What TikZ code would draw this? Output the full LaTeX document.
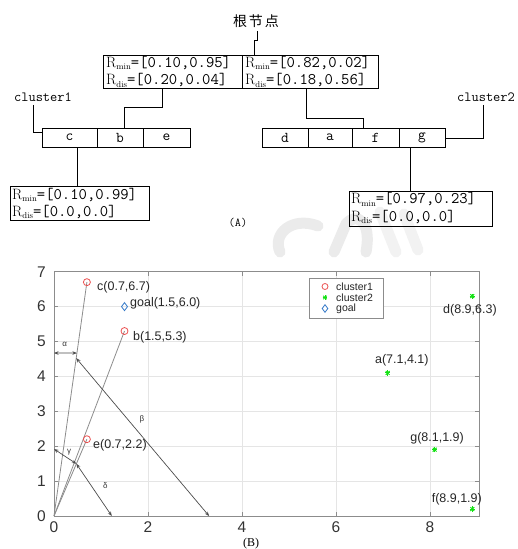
\documentclass[tikz,border=0pt]{standalone}
\usepackage{fontspec}
\newfontfamily\cjk{Noto Sans CJK SC}
\newfontfamily\plotfont{Liberation Sans}
\newfontfamily\capfont{Liberation Serif}
\usetikzlibrary{arrows.meta,calc}

\definecolor{markgreen}{RGB}{20,225,20}
\definecolor{markred}{RGB}{235,80,80}
\definecolor{markblue}{RGB}{50,120,200}

% range label: R with subscript, then a monospaced interval
\newcommand\rng[2]{{\fontsize{15}{15}\selectfont R}{\fontsize{8.5}{8.5}\selectfont\raisebox{-2.2pt}{#1}}{\ttfamily\fontsize{16.2}{16.2}\selectfont=[#2]}}

\tikzset{
  line/.style={draw=black, line width=0.8pt},
  cellbox/.style={line, inner sep=0pt, minimum height=19pt, font=\ttfamily\fontsize{15}{15}\selectfont},
  tag/.style={font=\ttfamily\fontsize{14}{14}\selectfont},
  gridline/.style={draw=black!10, line width=0.6pt},
  axisline/.style={draw=black!45, line width=0.8pt},
  ray/.style={draw=black!45, line width=0.8pt},
  dim/.style={draw=black!70, line width=0.7pt, {Stealth[length=4.5pt,width=3.5pt]}-{Stealth[length=4.5pt,width=3.5pt]}},
  ticklab/.style={font=\plotfont\fontsize{15.5}{15.5}\selectfont, text=black!80, inner sep=0pt},
  ptlab/.style={font=\plotfont\fontsize{12.5}{12.5}\selectfont, text=black!85, inner sep=0pt},
  greek/.style={font=\plotfont\fontsize{8}{8}\selectfont, text=black!80, inner sep=0pt},
  c1mark/.style={draw=markred, line width=0.8pt, fill=none},
  c2mark/.style={draw=markgreen, line width=1pt},
  goalmark/.style={draw=markblue, line width=0.8pt},
  wmark/.style={draw=black, opacity=0.08, line width=11pt, line cap=round},
}

\begin{document}
\begin{tikzpicture}[x=1pt, y=-1pt]
\useasboundingbox (0,0) rectangle (517,549);

% faint background logo behind the caption area
\draw[wmark] (318,226) .. controls (292,216) and (272,234) .. (280,252);
\draw[wmark] (334,252) -- (346,224) .. controls (356,212) and (372,220) .. (366,252);
\draw[wmark, opacity=0.05] (380,212) -- (396,252);
\draw[wmark, opacity=0.05] (404,214) -- (418,250);

% ---------------- (A) the tree ----------------
\node[font=\cjk\fontsize{14}{14}\selectfont] (rootname) at (256,21) {根\hspace{2pt}节\hspace{2pt}点};

\node[line, minimum width=139pt, minimum height=33pt, inner sep=0pt] (rootL) at (172.5,71.5) {};
\node[line, minimum width=136pt, minimum height=33pt, inner sep=0pt] (rootR) at (310,71.5) {};
\node[anchor=west, inner sep=0pt] (rootLa) at (106,63) {\rng{min}{0.10,0.95}};
\node[anchor=west, inner sep=0pt] (rootLb) at (106,80.5) {\rng{dis}{0.20,0.04}};
\node[anchor=west, inner sep=0pt] (rootRa) at (245,63) {\rng{min}{0.82,0.02}};
\node[anchor=west, inner sep=0pt] (rootRb) at (245,80.5) {\rng{dis}{0.18,0.56}};

% leaf rows
\node[cellbox, minimum width=55pt] (c) at (69.5,137.5) {c};
\node[cellbox, minimum width=46pt] (b) at (120,137.5) {b};
\node[cellbox, minimum width=47pt] (e) at (166.5,137.5) {e};

\node[cellbox, minimum width=46pt] (d) at (285,137.5) {d};
\node[cellbox, minimum width=44pt] (a) at (330,137.5) {a};
\node[cellbox, minimum width=47pt] (f) at (375.5,137.5) {f};
\node[cellbox, minimum width=46pt] (g) at (422,137.5) {g};

\node[tag] (cl1) at (43,97) {cluster1};
\node[tag] (cl2) at (486,97) {cluster2};

% detail boxes of leaves c and g
\node[line, minimum width=139pt, minimum height=34pt, inner sep=0pt] (cinfo) at (79.5,203) {};
\node[anchor=west, inner sep=0pt] (cinfoa) at (12,195) {\rng{min}{0.10,0.99}};
\node[anchor=west, inner sep=0pt] (cinfob) at (12,212) {\rng{dis}{0.0,0.0}};
\node[line, minimum width=143pt, minimum height=35pt, inner sep=0pt] (ginfo) at (420.5,208.5) {};
\node[anchor=west, inner sep=0pt] (ginfoa) at (351,199.5) {\rng{min}{0.97,0.23}};
\node[anchor=west, inner sep=0pt] (ginfob) at (351,217) {\rng{dis}{0.0,0.0}};

\node[font=\ttfamily\fontsize{12}{12}\selectfont] (capA) at (238,223) {(A)};

% connectors
\draw[line] (rootname.south -| 257,0) -- (257,40) -- (254,40) -- (rootR.north -| 254,0);
\draw[line] (rootL.south -| 162,0) -- (162,107) -- (124,107) -- (b.north -| 124,0);
\draw[line] (rootR.south -| 306,0) -- (306,118) -- (363,118) -- (f.north -| 363,0);
\draw[line] (cl1.south -| 33,0) -- (33,132) -- (c.west |- 0,132);
\draw[line] (cl2.south -| 483,0) -- (483,138) -- (g.east |- 0,138);
\draw[line] (c.south -| 77,0) -- (cinfo.north -| 77,0);
\draw[line] (g.south -| 410,0) -- (ginfo.north -| 410,0);

% ---------------- (B) the scatter plot ----------------
\begin{scope}[shift={(54pt,-516pt)}, x=47pt, y=34.9pt]
  \foreach \gx in {2,4,6,8} \draw[gridline] (\gx,0) -- (\gx,7);
  \foreach \gy in {1,...,6} \draw[gridline] (0,\gy) -- (9.05,\gy);
  \draw[axisline] (0,0) rectangle (9.05,7);
  \foreach \gx in {0,2,4,6,8} {
    \draw[axisline] (\gx,0) -- (\gx,0.12);
    \draw[axisline] (\gx,7) -- (\gx,6.88);
    \node[ticklab, anchor=north] at (\gx,-0.17) {\gx};
  }
  \foreach \gy in {0,...,7} {
    \draw[axisline] (0,\gy) -- (0.09,\gy);
    \draw[axisline] (9.05,\gy) -- (8.96,\gy);
    \node[ticklab, anchor=east] at (-0.17,\gy) {\gy};
  }

  \coordinate (O) at (0,0);
  \coordinate (pc) at (0.7,6.7);
  \coordinate (pb) at (1.5,5.3);
  \coordinate (pe) at (0.7,2.2);
  \coordinate (pgoal) at (1.5,6.0);
  \coordinate (pd) at (8.9,6.3);
  \coordinate (pa) at (7.1,4.1);
  \coordinate (pg) at (8.1,1.9);
  \coordinate (pf) at (8.9,0.2);

  \draw[ray] (O) -- (pc);
  \draw[ray] (O) -- (pb);
  \draw[ray] (O) -- (pe);

  % angle/distance arrows
  \coordinate (alA) at (0,4.67);
  \coordinate (alB) at ($(O)!0.697!(pc)$);
  \coordinate (beA) at ($(O)!0.675!(pc)$);
  \coordinate (beB) at (3.3,0);
  \coordinate (gaA) at (0,1.92);
  \coordinate (gaB) at ($(O)!0.68!(pe)$);
  \coordinate (deB) at (1.23,0);
  \draw[dim] (alA) -- (alB);
  \draw[dim] (beA) -- (beB);
  \draw[dim] (gaA) -- (gaB);
  \draw[dim] (gaB) -- (deB);
  \node[greek] (lal) at (0.23,4.92) {α};
  \node[greek] (lbe) at (1.87,2.78) {β};
  \node[greek] (lga) at (0.32,1.83) {γ};
  \node[greek] (lde) at (1.09,0.86) {δ};

  % markers
  \foreach \p in {pc,pb,pe} \draw[c1mark] (\p) circle (3.5pt);
  \foreach \p in {pd,pa,pg,pf} {
    \draw[c2mark] ([xshift=-2.6pt]\p) -- ([xshift=2.6pt]\p);
    \draw[c2mark] ([yshift=-2.6pt]\p) -- ([yshift=2.6pt]\p);
    \draw[c2mark] ([xshift=-1.9pt,yshift=-1.9pt]\p) -- ([xshift=1.9pt,yshift=1.9pt]\p);
    \draw[c2mark] ([xshift=-1.9pt,yshift=1.9pt]\p) -- ([xshift=1.9pt,yshift=-1.9pt]\p);
  }
  \draw[goalmark] ([yshift=4pt]pgoal) -- ([xshift=3pt]pgoal) -- ([yshift=-4pt]pgoal) -- ([xshift=-3pt]pgoal) -- cycle;

  % point labels
  \node[ptlab, anchor=west] (lc) at (0.915,6.56) {c(0.7,6.7)};
  \node[ptlab, anchor=west] (lgoal) at (1.617,6.10) {goal(1.5,6.0)};
  \node[ptlab, anchor=west] (lb) at (1.68,5.13) {b(1.5,5.3)};
  \node[ptlab, anchor=west] (le) at (0.83,2.03) {e(0.7,2.2)};
  \node[ptlab] (ld) at (8.85,5.90) {d(8.9,6.3)};
  \node[ptlab] (la) at (7.40,4.47) {a(7.1,4.1)};
  \node[ptlab] (lg) at (8.15,2.23) {g(8.1,1.9)};
  \node[ptlab] (lf) at (8.57,0.49) {f(8.9,1.9)};
\end{scope}

% legend
\node[draw=black!45, fill=white, line width=0.7pt, minimum width=74pt, minimum height=40pt, inner sep=0pt] (legend) at (346,298) {};
\draw[c1mark] (325,286.5) circle (3pt);
\coordinate (lg2) at (325,297.5);
\draw[c2mark] ([xshift=-2.4pt]lg2) -- ([xshift=2.4pt]lg2);
\draw[c2mark] ([yshift=-2.4pt]lg2) -- ([yshift=2.4pt]lg2);
\draw[c2mark] ([xshift=-1.7pt,yshift=-1.7pt]lg2) -- ([xshift=1.7pt,yshift=1.7pt]lg2);
\draw[c2mark] ([xshift=-1.7pt,yshift=1.7pt]lg2) -- ([xshift=1.7pt,yshift=-1.7pt]lg2);
\coordinate (lg3) at (325,308.5);
\draw[goalmark] ([yshift=-3.8pt]lg3) -- ([xshift=2.8pt]lg3) -- ([yshift=3.8pt]lg3) -- ([xshift=-2.8pt]lg3) -- cycle;
\node[ptlab, font=\plotfont\fontsize{10.5}{10.5}\selectfont, anchor=west] (leg1) at (336,286.5) {cluster1};
\node[ptlab, font=\plotfont\fontsize{10.5}{10.5}\selectfont, anchor=west] (leg2) at (336,297.5) {cluster2};
\node[ptlab, font=\plotfont\fontsize{10.5}{10.5}\selectfont, anchor=west] (leg3) at (336,308.5) {goal};

\node[font=\capfont\fontsize{12}{12}\selectfont] (capB) at (251,544) {(B)};
\end{tikzpicture}
\end{document}
